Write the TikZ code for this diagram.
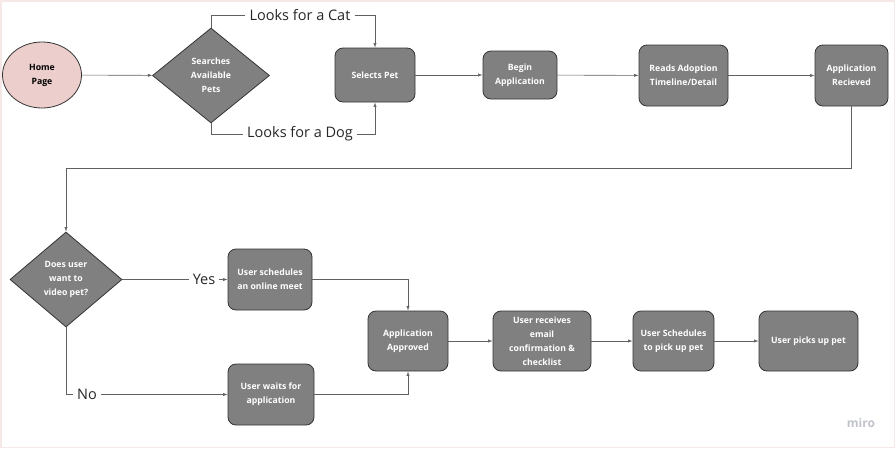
\documentclass[tikz,border=0pt]{standalone}
\usepackage{fontspec}
\setmainfont{Open Sans}
\usepackage{xcolor}
\usepackage{tikz}
\usetikzlibrary{arrows.meta,positioning,shapes.geometric}
\definecolor{miroGray}{RGB}{128,128,128}
\definecolor{miroEdge}{RGB}{52,52,52}
\definecolor{miroPink}{RGB}{236,207,204}
\definecolor{miroLine}{RGB}{96,96,96}
\definecolor{miroFrame}{RGB}{246,232,230}
\definecolor{miroMark}{RGB}{192,194,204}

\tikzset{
  stepbox/.style={draw=miroEdge, fill=miroGray, rounded corners=8pt, line width=0.8pt,
    text=white, font=\fontsize{8.7}{14}\selectfont\bfseries, align=center, inner sep=0pt},
  choice/.style={diamond, draw=miroEdge, fill=miroGray, line width=0.8pt,
    text=white, font=\fontsize{8.7}{14}\selectfont\bfseries, align=center, inner sep=0pt},
  flow/.style={miroLine, line width=0.6pt, -{Latex[length=4.5pt,width=3.2pt]}},
  plainflow/.style={miroLine, line width=0.6pt},
  edgelabel/.style={font=\fontsize{14.5}{16}\selectfont, text=black!85, inner sep=4pt}
}

\begin{document}
\begin{tikzpicture}[x=1pt,y=-1pt]
\useasboundingbox (0,0) rectangle (895,448);
\draw[miroFrame, line width=1.5pt] (0.75,0.75) rectangle (894.25,447.25);

% first row
\node[ellipse, draw=miroEdge, fill=miroPink, line width=0.8pt, minimum width=79pt, minimum height=66pt,
  inner sep=0pt, align=center, font=\fontsize{8.7}{14}\selectfont\bfseries] (home) at (42,75) {Home\\Page};
\node[choice, minimum width=117pt, minimum height=95pt] (search) at (211,75.5) {Searches\\Available\\Pets};
\node[stepbox, minimum width=80pt, minimum height=54pt] (select) at (375,75) {Selects Pet};
\node[stepbox, minimum width=74pt, minimum height=48pt] (begin) at (520,75) {Begin\\Application};
\node[stepbox, minimum width=89pt, minimum height=61pt] (reads) at (683.5,75.5) {Reads Adoption\\Timeline/Detail};
\node[stepbox, minimum width=73pt, minimum height=61pt] (recv) at (851.5,75.5) {Application\\Recieved};

\node[edgelabel] (cat) at (300,15) {Looks for a Cat};
\node[edgelabel] (dog) at (300,134) {Looks for a Dog};

% second row
\node[choice, minimum width=112pt, minimum height=95pt] (video) at (66,279.5) {Does user\\want to\\video pet?};
\node[stepbox, minimum width=84pt, minimum height=61pt] (meet) at (270,279.5) {User schedules\\an online meet};
\node[stepbox, minimum width=86pt, minimum height=61pt] (waits) at (271,394.5) {User waits for\\application};
\node[stepbox, minimum width=80pt, minimum height=60pt] (approved) at (408,341) {Application\\Approved};
\node[stepbox, minimum width=98pt, minimum height=60pt] (email) at (542,341) {User receives\\email\\confirmation \&\\checklist};
\node[stepbox, minimum width=81pt, minimum height=60pt] (pickup) at (673.5,341) {User Schedules\\to pick up pet};
\node[stepbox, minimum width=99pt, minimum height=60pt] (picks) at (808.5,341) {User picks up pet};

\node[edgelabel] (yes) at (204,279.5) {Yes};
\node[edgelabel] (no) at (87,394.5) {No};
\coordinate (turn) at (66,168);

\node[text=miroMark, font=\fontsize{12}{14}\selectfont\bfseries] (mark) at (861,423) {miro};

% connectors
\draw[flow] (home) -- (search);
\draw[plainflow] (search.north) |- (cat.west);
\draw[flow] (cat.east) -| (select.north);
\draw[plainflow] (search.south) |- (dog.west);
\draw[flow] (dog.east) -| (select.south);
\draw[flow] (select) -- (begin);
\draw[flow] (begin) -- (reads);
\draw[flow] (reads) -- (recv);
\draw[plainflow] (recv.south) |- (turn);
\draw[flow] (turn) -- (video.north);

\draw[plainflow] (video.east) -- (yes.west);
\draw[flow] (yes.east) -- (meet.west);
\draw[plainflow] (video.south) |- (no.west);
\draw[flow] (no.east) -- (waits.west);
\draw[flow] (meet.east) -| (approved.north);
\draw[flow] (waits.east) -| (approved.south);
\draw[flow] (approved) -- (email);
\draw[flow] (email) -- (pickup);
\draw[flow] (pickup) -- (picks);
\end{tikzpicture}
\end{document}
